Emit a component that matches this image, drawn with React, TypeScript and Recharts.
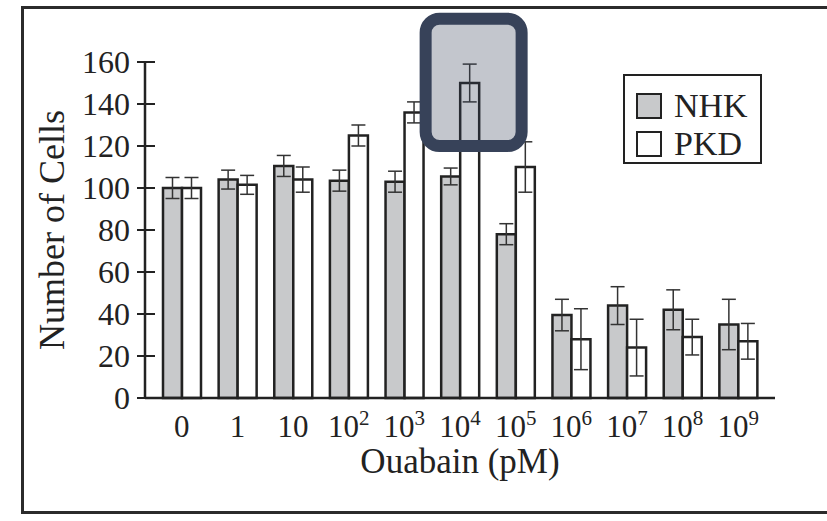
import React from 'react';
import {
  BarChart,
  Bar,
  XAxis,
  YAxis,
  ErrorBar,
  Legend,
  ReferenceArea,
  Label,
} from 'recharts';

// ouabain concentration (pM); "^" marks the exponent
const concentrations = ['0', '1', '10', '10^2', '10^3', '10^4', '10^5', '10^6', '10^7', '10^8', '10^9'];
const nhkCells = [100, 104, 110.5, 103.5, 103, 105.5, 78, 39.5, 44, 42, 35];
const nhkError = [5, 4.5, 5, 5, 5, 4, 5, 7.5, 9, 9.5, 12];
const pkdCells = [100, 101.5, 104, 125, 136, 150, 110, 28, 24, 29, 27];
const pkdError = [5, 4.5, 6, 5, 5, 9, 12, 14.5, 13.5, 8.5, 8.5];
const yTicks = [0, 20, 40, 60, 80, 100, 120, 140, 160];

const data = concentrations.map((c, i) => ({
  conc: c,
  NHK: nhkCells[i],
  nhkErr: nhkError[i],
  PKD: pkdCells[i],
  pkdErr: pkdError[i],
}));

const FONT = '"Liberation Serif", "Times New Roman", serif';
const INK = '#222';

const XTick = (props: any) => {
  const { x, y, payload } = props;
  const [base, exp] = String(payload.value).split('^');
  return (
    <text x={x} y={y} dy={39} textAnchor="middle" fontSize={31} fill={INK} fontFamily={FONT}>
      {base}
      {exp && (
        <tspan dy={-12} fontSize={21}>
          {exp}
        </tspan>
      )}
    </text>
  );
};

const YTick = (props: any) => {
  const { x, y, payload } = props;
  return (
    <g>
      <line x1={x + 7} x2={x + 25} y1={y} y2={y} stroke={INK} strokeWidth={2} />
      <text x={x} y={y} dy="0.34em" textAnchor="end" fontSize={32} fill={INK} fontFamily={FONT}>
        {payload.value}
      </text>
    </g>
  );
};

const LegendBox = (props: any) => {
  const { payload } = props;
  return (
    <div
      style={{
        border: `2.5px solid ${INK}`,
        boxSizing: 'border-box',
        width: 139,
        height: 90,
        padding: '11px 0 0 11px',
        fontFamily: FONT,
      }}
    >
      {(payload || []).map((p: any) => (
        <div key={p.value} style={{ display: 'flex', alignItems: 'center', height: 38 }}>
          <div
            style={{
              width: 26,
              height: 26,
              boxSizing: 'border-box',
              border: `2.5px solid ${INK}`,
              background: p.color,
              marginRight: 12,
            }}
          />
          <span style={{ fontSize: 34, lineHeight: 1, color: INK }}>{p.value}</span>
        </div>
      ))}
    </div>
  );
};

const Highlight = (props: any) => {
  const { x, y, width, height } = props;
  const cx = x + width * 0.745;
  return (
    <rect
      x={cx - 48}
      y={y}
      width={96}
      height={height}
      rx={14}
      ry={14}
      fill="#374259"
      fillOpacity={0.3}
      stroke="#374259"
      strokeWidth={12}
    />
  );
};

export default function App() {
  return (
    <div
      style={{
        position: 'absolute',
        left: 0,
        top: 0,
        width: 827,
        height: 521,
        overflow: 'hidden',
        background: '#fff',
      }}
    >
      {/* page frame: open on the right, like the cropped figure */}
      <div
        style={{
          position: 'absolute',
          left: 21,
          top: 6,
          width: 806,
          height: 508,
          boxSizing: 'border-box',
          borderTop: '3px solid #2b2b2b',
          borderLeft: '3px solid #2b2b2b',
          borderBottom: '3px solid #2b2b2b',
        }}
      />
      <div style={{ position: 'absolute', left: 0, top: 0 }}>
        <BarChart
          width={827}
          height={521}
          data={data}
          margin={{ top: 62, right: 52, bottom: 43, left: 45 }}
          barCategoryGap={9}
          barGap={0}
        >
          <XAxis
            dataKey="conc"
            height={80}
            padding={{ left: 9, right: 9 }}
            tickLine={false}
            tickSize={0}
            tickMargin={0}
            tick={<XTick />}
            interval={0}
            axisLine={{ stroke: INK, strokeWidth: 2.5 }}
          >
            <Label
              value="Ouabain (pM)"
              position="insideBottom"
              offset={5}
              style={{ fontSize: 35, fontFamily: FONT, fill: INK }}
            />
          </XAxis>
          <YAxis
            width={100}
            domain={[0, 160]}
            ticks={yTicks}
            tickLine={false}
            tickSize={8}
            tickMargin={7}
            tick={<YTick />}
            axisLine={{ stroke: INK, strokeWidth: 2.5 }}
          >
            <Label
              value="Number of Cells"
              angle={-90}
              position="insideLeft"
              offset={6}
              style={{ fontSize: 36, fontFamily: FONT, fill: INK, textAnchor: 'middle' }}
            />
          </YAxis>
          <Legend
            layout="vertical"
            align="center"
            verticalAlign="middle"
            wrapperStyle={{ left: 623, top: 74, width: 139, height: 90 }}
            content={<LegendBox />}
          />
          <Bar dataKey="NHK" fill="#c8c9cb" stroke={INK} strokeWidth={2.5} isAnimationActive={false}>
            <ErrorBar dataKey="nhkErr" width={7} stroke="#333" strokeWidth={1.5} isAnimationActive={false} />
          </Bar>
          <Bar dataKey="PKD" fill="#ffffff" stroke={INK} strokeWidth={2.5} isAnimationActive={false}>
            <ErrorBar dataKey="pkdErr" width={7} stroke="#333" strokeWidth={1.5} isAnimationActive={false} />
          </Bar>
          <ReferenceArea
            x1="10^4"
            x2="10^4"
            y1={120}
            y2={180.6}
            ifOverflow="visible"
            shape={<Highlight />}
            zIndex={1500}
          />
        </BarChart>
      </div>
    </div>
  );
}
